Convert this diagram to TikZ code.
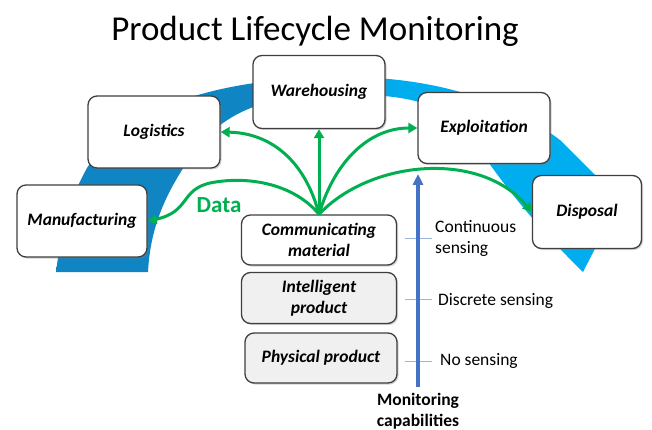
\documentclass[tikz,border=0pt]{standalone}
\usepackage{fontspec}
\setmainfont{Carlito}
\usetikzlibrary{arrows.meta,shadows}

\definecolor{flowgreen}{HTML}{00B050}
\definecolor{axisblue}{HTML}{4472C4}
\definecolor{tickblue}{HTML}{9DB5E0}
\definecolor{bandDark}{HTML}{0F85C3}
\definecolor{bandLight}{HTML}{00AEEF}
\definecolor{boxline}{HTML}{3F3F3F}
\pgfdeclarehorizontalshading{bandshade}{100bp}{color(0bp)=(bandDark); color(42bp)=(bandDark); color(56bp)=(bandLight); color(100bp)=(bandLight)}

\begin{document}
\begin{tikzpicture}[x=1pt, y=-1pt,
  stage/.style={draw=boxline, line width=1.3pt, fill=white, rounded corners=9pt,
    drop shadow={shadow xshift=1.5pt, shadow yshift=-1.5pt, opacity=.35},
    font=\fontsize{17.5}{21}\selectfont\bfseries\itshape, align=center, inner sep=2pt},
  level/.style={stage, fill=black!6},
  flow/.style={draw=flowgreen, line width=3pt, -{Triangle[length=9pt,width=10pt]}},
  note/.style={font=\fontsize{17.5}{21}\selectfont, align=left, anchor=west, inner sep=1pt}]
  \path[use as bounding box, fill=white] (0,0) rectangle (652,430);

  % the lifecycle band
  \shade[shading=bandshade] (56,272) .. controls (62,225) and (72,195) .. (87,168)
    .. controls (120,115) and (200,80) .. (330,77)
    .. controls (420,75) and (500,95) .. (560,140) -- (620,200) -- (583,272)
    .. controls (550,240) and (510,195) .. (480,150)
    .. controls (460,105) and (410,92) .. (330,95)
    .. controls (270,95) and (215,110) .. (182,170)
    .. controls (160,205) and (150,235) .. (148,272) -- cycle;

  \node[font=\fontsize{35}{40}\selectfont, anchor=base] (title) at (315,41) {Product Lifecycle Monitoring};

  % stages
  \node[stage, minimum width=130pt, minimum height=72pt] (manuf) at (82,221) {Manufacturing};
  \node[stage, minimum width=132pt, minimum height=72pt] (logis) at (154,132) {Logistics};
  \node[stage, minimum width=132pt, minimum height=73pt] (wareh) at (319,92) {Warehousing};
  \node[stage, minimum width=132pt, minimum height=71pt] (exploit) at (484,128) {Exploitation};
  \node[stage, minimum width=109pt, minimum height=73pt] (dispo) at (587,212) {Disposal};

  % product levels
  \node[level, fill=white, minimum width=155pt, minimum height=50pt] (comm) at (319,240) {Communicating\\material};
  \node[level, minimum width=155pt, minimum height=51pt] (intel) at (319,298) {Intelligent\\product};
  \node[level, minimum width=152pt, minimum height=50pt] (phys) at (321,358) {Physical product};

  % monitoring axis
  \coordinate (axbot) at (418,387);
  \coordinate (axtop) at (418,174);
  \foreach \y in {238,299,361}
    \draw[tickblue, line width=0.8pt] (405,\y) -- (432,\y);
  \draw[axisblue, line width=3.5pt, -{Triangle[length=11pt,width=10pt]}] (axbot) -- (axtop);
  \node[note] (cont) at (434,238) {Continuous\\sensing};
  \node[note] (disc) at (437,301) {Discrete sensing};
  \node[note] (nosens) at (439,361) {No sensing};
  \node[font=\fontsize{17.5}{21}\selectfont\bfseries, align=center] (monit) at (418,411) {Monitoring\\capabilities};

  % data flows
  \draw[flow] (comm.north) .. controls (305,160) and (270,133) .. (logis.east);
  \draw[flow] (comm.north) -- (wareh.south);
  \draw[flow] (comm.north) .. controls (335,160) and (370,128) .. (exploit.west);
  \draw[flow] (comm.north) .. controls (370,160) and (480,150) .. (dispo.west);
  \draw[flow] (comm.north) .. controls (295,185) and (250,175) .. (210,183)
    .. controls (180,190) and (190,212) .. (manuf.east);
  \node[font=\fontsize{23}{27}\selectfont\bfseries, text=flowgreen] (data) at (219,205) {Data};
\end{tikzpicture}
\end{document}
